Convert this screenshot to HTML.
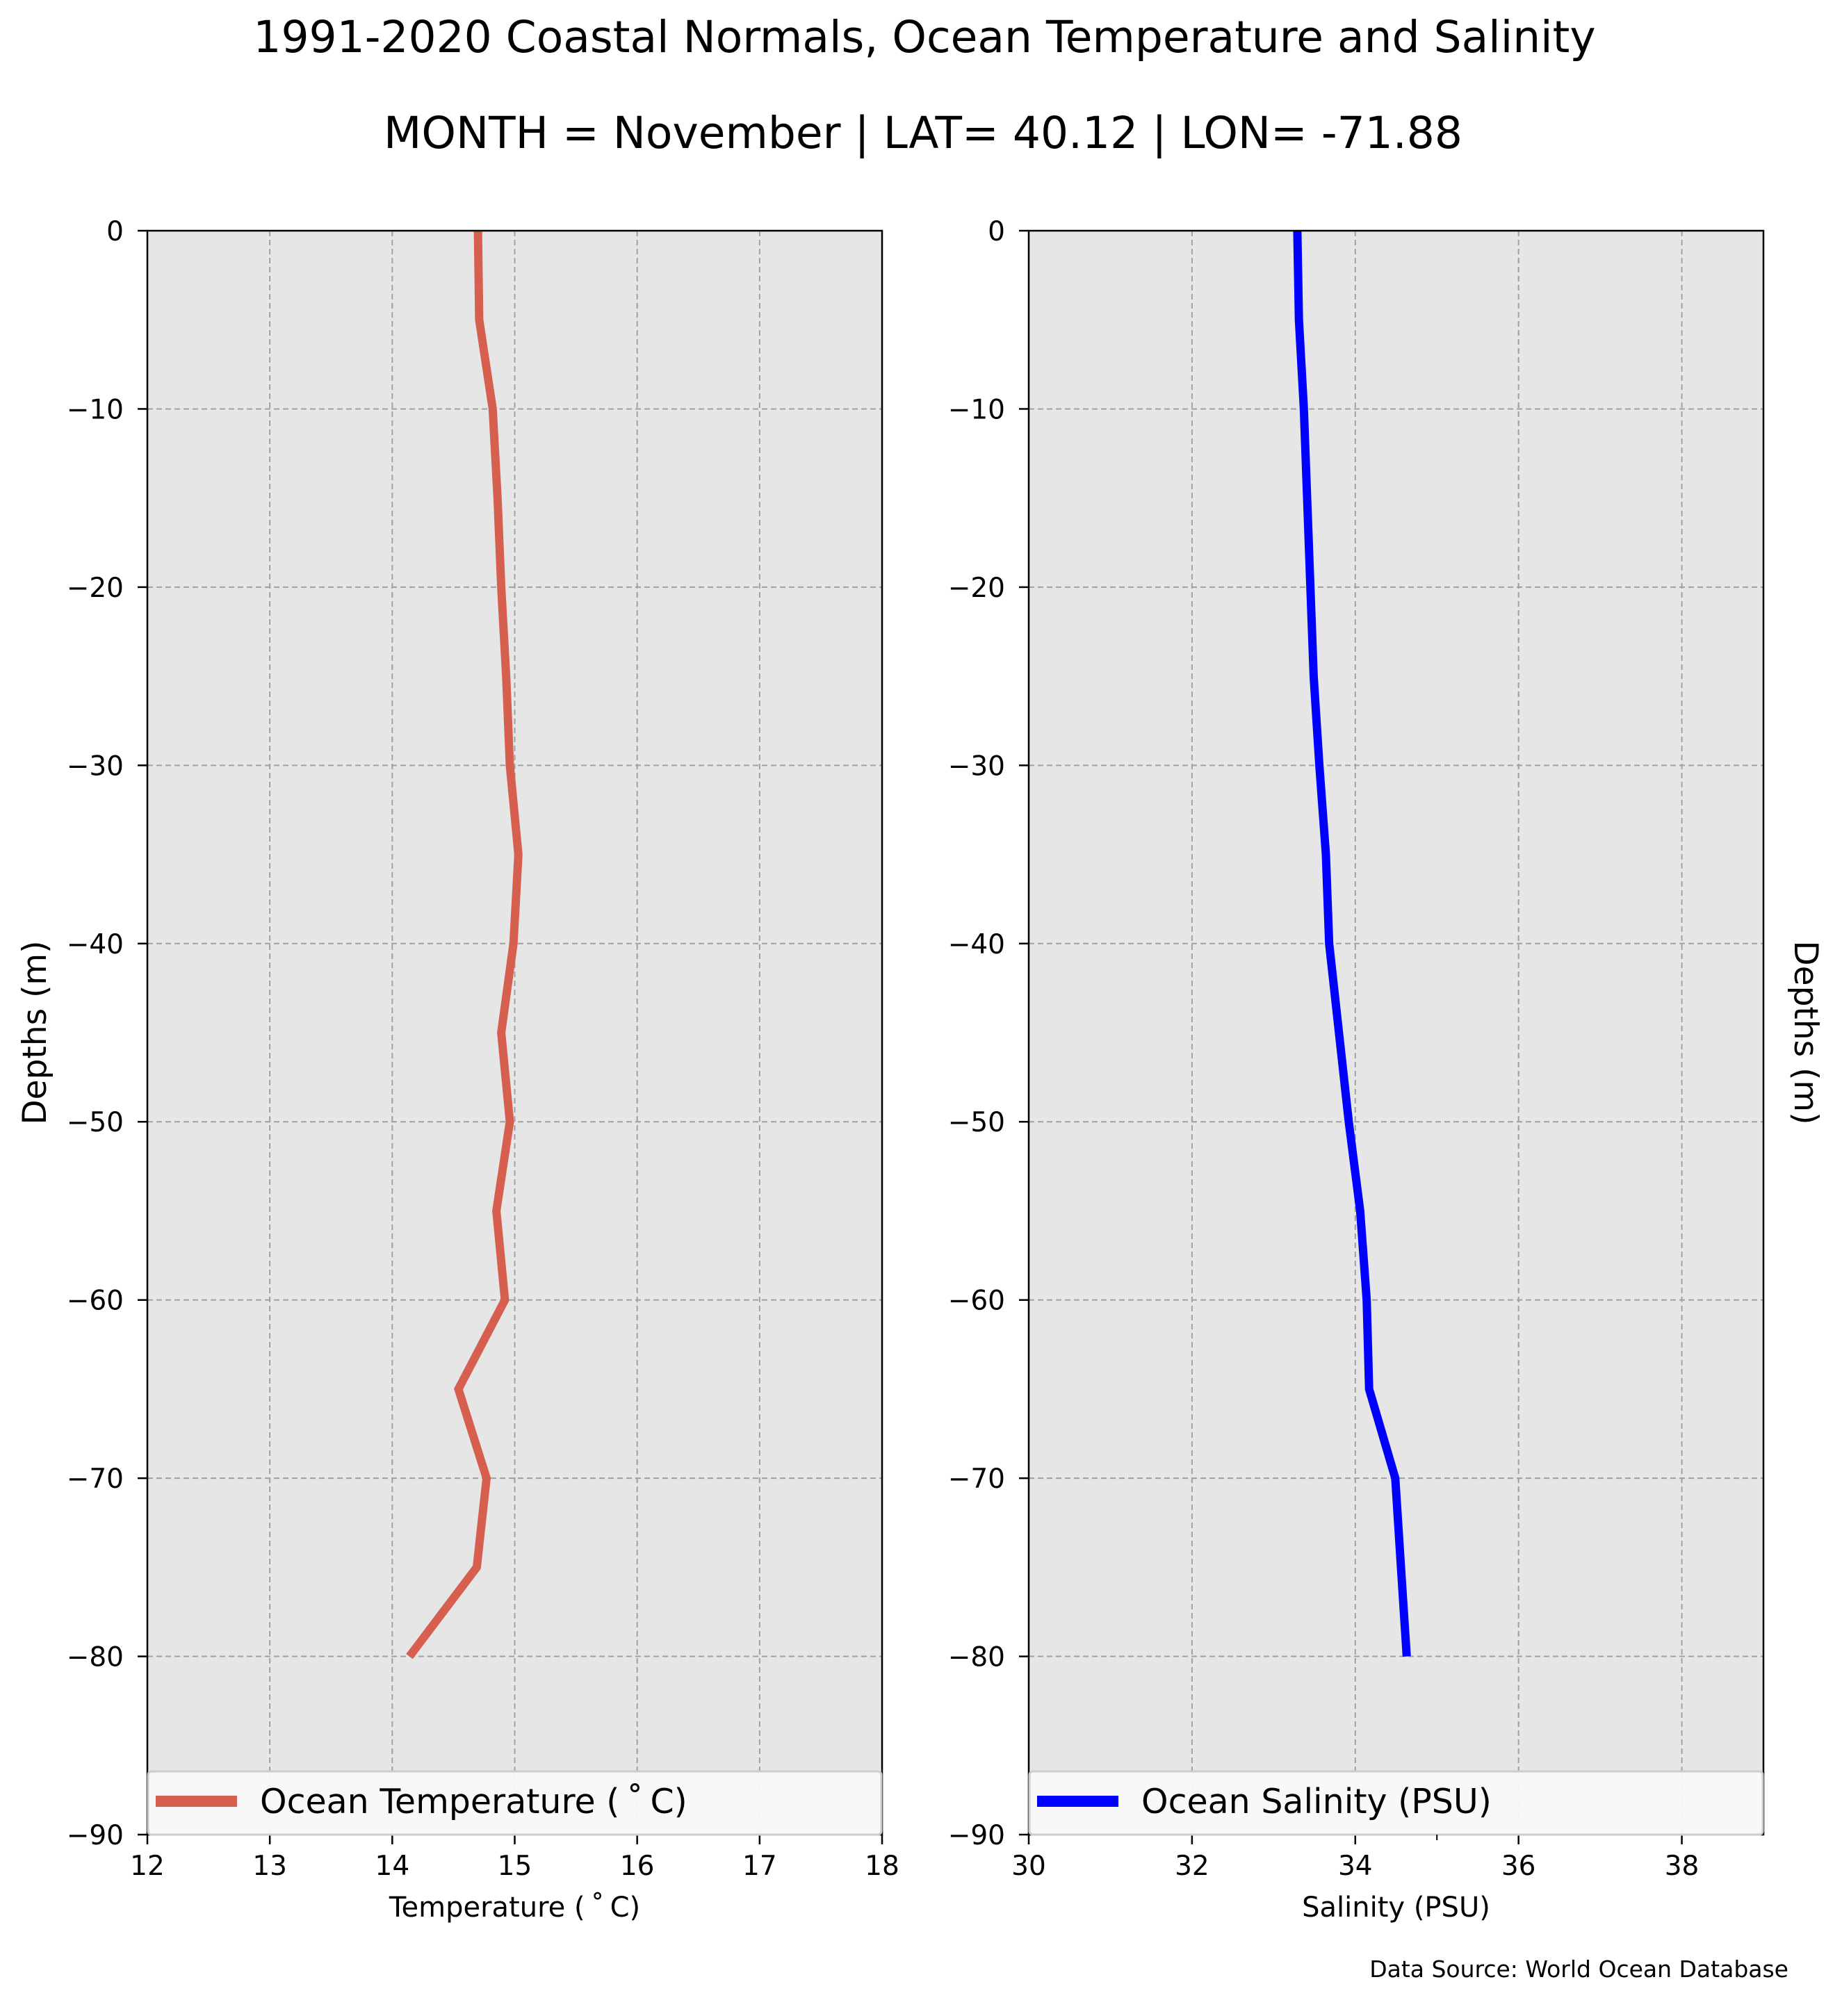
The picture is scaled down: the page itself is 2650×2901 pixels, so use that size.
<!DOCTYPE html>
<html><head><meta charset="utf-8"><style>
html,body{margin:0;padding:0;background:#fff;}
svg{display:block;font-family:"DejaVu Sans","Liberation Sans",sans-serif;}
</style></head><body>
<svg id="chart" width="2650" height="2901" viewBox="0 0 2650 2901" xmlns="http://www.w3.org/2000/svg">
<text x="1330" y="75" font-size="63" text-anchor="middle">1991-2020 Coastal Normals, Ocean Temperature and Salinity</text>
<text x="1328" y="213" font-size="63" text-anchor="middle">MONTH = November | LAT= 40.12 | LON= -71.88</text>
<text x="2573" y="2845" font-size="33" text-anchor="end">Data Source: World Ocean Database</text>
<g id="left"></g>
<g id="right"></g>
</svg>
<script>
const depths = [0,-5,-10,-15,-20,-25,-30,-35,-40,-45,-50,-55,-60,-65,-70,-75,-80];
const temperature = [14.70,14.71,14.82,14.86,14.89,14.93,14.96,15.03,14.99,14.89,14.96,14.85,14.92,14.54,14.77,14.69,14.14];
const salinity = [33.29,33.31,33.37,33.41,33.45,33.49,33.56,33.64,33.68,33.80,33.92,34.06,34.14,34.17,34.49,34.56,34.63];
const depthTicks = [0,-10,-20,-30,-40,-50,-60,-70,-80,-90];
const tempTicks = [12,13,14,15,16,17,18];
const salTicks = [30,32,34,36,38];

const NS="http://www.w3.org/2000/svg";
const TOP=332, BOT=2640;
function yScale(d){return TOP+(0-d)/90*(BOT-TOP);}
function mk(parent,tag,attrs){const e=document.createElementNS(NS,tag);for(const k in attrs)e.setAttribute(k,attrs[k]);parent.appendChild(e);return e;}

function panel(g,L,R,xmin,xmax,xticks,vals,color,legendText,xlabel,yLabelX,yRot,prefix){
  const xs=v=>L+(v-xmin)/(xmax-xmin)*(R-L);
  const bg=mk(g,'rect',{x:L,y:TOP,width:R-L,height:BOT-TOP,fill:'#e6e6e6'});
  
  
  xticks.forEach(t=>{
    const x=xs(t);
    const gl=mk(g,'line',{x1:x,x2:x,y1:TOP,y2:BOT,stroke:'#a0a0a0','stroke-width':2,'stroke-dasharray':'8,5'});
    
    
    const tk=mk(g,'line',{x1:x,x2:x,y1:BOT,y2:BOT+14,stroke:'#000','stroke-width':2.5});
    
    
    const tl=mk(g,'text',{x:x,y:2698,'font-size':39,'text-anchor':'middle'});
    tl.textContent=t;
    
    
  });
  depthTicks.forEach(d=>{
    const y=yScale(d);
    const gl=mk(g,'line',{x1:L,x2:R,y1:y,y2:y,stroke:'#a0a0a0','stroke-width':2,'stroke-dasharray':'8,5'});
    
    
    const tk=mk(g,'line',{x1:L-14,x2:L,y1:y,y2:y,stroke:'#000','stroke-width':2.5});
    
    
    const tl=mk(g,'text',{x:L-34,y:y+14,'font-size':39,'text-anchor':'end'});
    tl.textContent=d<0?'\u2212'+(-d):String(d);
    
    
  });
  const pts=vals.map((v,i)=>xs(v).toFixed(1)+','+yScale(depths[i]).toFixed(1)).join(' ');
  const ln=mk(g,'polyline',{points:pts,fill:'none',stroke:color,'stroke-width':12,'stroke-linejoin':'miter'});
  
  
  const fr=mk(g,'rect',{x:L,y:TOP,width:R-L,height:BOT-TOP,fill:'none',stroke:'#000','stroke-width':2.5});
  
  
  const lg=mk(g,'g',{});
  
  
  mk(lg,'rect',{x:L+1,y:2549,width:R-L-2,height:91,rx:5,fill:'#f9f9f9','fill-opacity':0.95,stroke:'#cccccc','stroke-width':3});
  mk(lg,'line',{x1:L+12,x2:L+129,y1:2592,y2:2592,stroke:color,'stroke-width':16});
  const lt=mk(lg,'text',{x:L+162,y:2609,'font-size':49});
  lt.textContent=legendText;
  
  
  const xl=mk(g,'text',{x:(L+R)/2,y:2758,'font-size':40,'text-anchor':'middle'});
  xl.textContent=xlabel;
  
  
  const yl=mk(g,'text',{x:0,y:0,'font-size':47,'text-anchor':'middle',transform:'translate('+yLabelX+',1486) rotate('+yRot+')'});
  yl.textContent='Depths (m)';
  
  
  return xs;
}
panel(document.getElementById('left'),212,1269,12,18,tempTicks,temperature,'#d65f4f','Ocean Temperature (\u2009\u02DA\u2009C)','Temperature (\u2009\u02DA\u2009C)',66,-90,'temp');
const xsS=panel(document.getElementById('right'),1480,2537,30,39,salTicks,salinity,'#0000ff','Ocean Salinity (PSU)','Salinity (PSU)',2582,90,'sal');
const mt=mk(document.getElementById('right'),'line',{x1:xsS(35),x2:xsS(35),y1:2640,y2:2648,stroke:'#000','stroke-width':2});


</script>
</body></html>
